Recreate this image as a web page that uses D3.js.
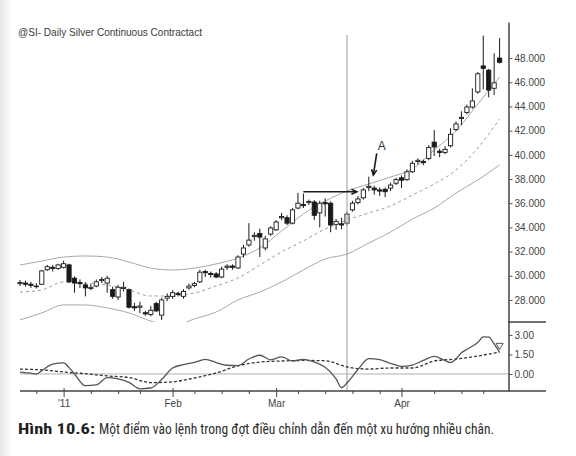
<!DOCTYPE html>
<html>
<head>
<meta charset="utf-8">
<title>Silver Continuous Contract</title>
<script src="https://d3js.org/d3.v7.min.js"></script>
<style>
    body { margin: 0; background: #fff; }
    svg text { font-family: "Liberation Sans", Arial, sans-serif; }
</style>
</head>
<body>
<script>
var width = 576,
    height = 456;

// daily bars, index 0 = Dec 21 2010 ... index 88 = Apr 28 2011
var opens = [29.35, 29.40, 29.30, 29.15, 29.30, 30.50, 30.70, 30.60, 30.70, 30.90,
    29.80, 29.45, 29.25, 28.95, 29.15, 29.60, 29.40, 28.85, 28.25, 28.95,
    28.85, 27.45, 27.40, 26.95, 26.80, 27.70, 26.75, 28.15, 28.30, 28.55,
    28.30, 29.00, 29.20, 29.50, 30.35, 30.20, 30.15, 29.90, 30.70, 30.80,
    30.65, 31.80, 32.55, 33.25, 33.50, 32.30, 33.45, 33.80, 34.80, 34.80,
    34.35, 35.60, 35.90, 36.05, 36.10, 35.20, 36.05, 36.00, 34.25, 34.30,
    34.35, 35.45, 36.05, 36.45, 37.30, 37.25, 37.10, 37.15, 37.25, 37.65,
    38.10, 37.95, 38.60, 39.45, 39.45, 39.70, 41.05, 40.30, 40.20, 40.75,
    42.10, 43.00, 43.50, 43.95, 45.20, 47.35, 47.00, 45.50, 48.00];
var highs = [29.65, 29.60, 29.50, 29.40, 30.50, 30.90, 30.90, 31.00, 31.25, 31.00,
    29.95, 29.70, 29.45, 29.30, 29.70, 29.90, 30.00, 29.10, 29.25, 29.50,
    28.95, 27.75, 27.85, 27.10, 27.50, 27.85, 28.20, 28.55, 28.80, 28.70,
    28.90, 29.35, 29.50, 30.50, 30.50, 30.35, 30.30, 30.75, 30.95, 30.95,
    31.70, 32.55, 34.35, 33.60, 33.90, 33.30, 34.10, 34.60, 35.20, 35.00,
    35.60, 36.85, 36.80, 36.30, 36.25, 36.20, 36.40, 36.15, 34.70, 34.80,
    35.30, 36.20, 36.60, 37.25, 38.20, 37.45, 37.30, 37.30, 37.70, 38.10,
    38.30, 38.80, 39.50, 39.70, 39.60, 40.80, 42.05, 40.50, 40.70, 42.20,
    42.75, 43.60, 44.15, 45.50, 46.85, 49.85, 47.10, 48.40, 49.65];
var lows = [29.15, 29.10, 29.00, 28.95, 29.25, 30.40, 30.35, 30.50, 30.60, 29.40,
    28.60, 29.00, 28.30, 28.80, 29.05, 29.40, 28.60, 28.10, 28.00, 28.70,
    27.30, 27.10, 26.90, 26.70, 26.65, 27.00, 26.35, 27.90, 28.10, 28.30,
    28.10, 28.85, 29.05, 29.40, 29.90, 29.85, 29.80, 29.80, 30.50, 30.50,
    30.55, 31.50, 32.40, 32.90, 31.55, 32.10, 33.30, 33.70, 34.60, 34.20,
    34.25, 35.50, 35.60, 35.85, 34.60, 34.00, 34.90, 33.60, 33.80, 33.85,
    34.20, 35.30, 35.90, 36.30, 37.00, 36.70, 36.60, 36.50, 37.00, 37.50,
    37.25, 37.85, 38.50, 39.20, 39.15, 39.55, 39.90, 39.80, 40.05, 40.60,
    41.95, 42.45, 43.35, 43.80, 45.05, 45.40, 44.75, 44.95, 47.55];
var closes = [29.45, 29.30, 29.20, 29.10, 30.40, 30.75, 30.60, 30.90, 31.00, 29.50,
    29.40, 29.35, 29.00, 29.05, 29.50, 29.70, 29.80, 28.30, 29.05, 29.05,
    27.40, 27.35, 27.50, 26.85, 27.15, 27.10, 28.00, 28.30, 28.60, 28.45,
    28.70, 29.15, 29.35, 30.30, 30.25, 30.10, 29.90, 30.55, 30.80, 30.70,
    31.55, 32.30, 32.95, 33.35, 33.20, 33.05, 33.95, 34.45, 34.90, 34.35,
    35.45, 36.00, 35.80, 36.15, 35.00, 36.00, 35.95, 34.20, 34.50, 34.20,
    35.10, 36.00, 36.35, 37.10, 37.40, 37.10, 37.00, 36.95, 37.50, 37.95,
    37.90, 38.60, 39.30, 39.55, 39.35, 40.60, 40.65, 40.20, 40.45, 41.70,
    42.55, 43.10, 43.95, 44.45, 46.70, 47.15, 45.35, 45.95, 47.65];

// channel (upper / middle / lower), sampled every 4 bars
var bandIdx = [0, 4, 8, 12, 16, 20, 24, 28, 32, 36, 40, 44, 48, 52, 56, 60, 64, 68, 72, 76, 80, 84, 88];
var upperBand = [30.89, 31.22, 31.55, 31.64, 31.55, 31.14, 30.64, 30.48, 30.64, 30.98, 31.47, 32.30,
    33.70, 35.11, 36.18, 37.01, 37.59, 38.17, 38.83, 40.40, 41.97, 44.20, 46.43];
var middleBand = [28.66, 28.83, 29.49, 29.40, 29.24, 28.83, 28.33, 28.33, 28.58, 29.16, 29.82, 30.89,
    31.97, 32.88, 33.87, 34.61, 35.19, 35.77, 36.68, 37.59, 38.74, 40.56, 42.96];
var lowerBand = [26.35, 26.93, 27.59, 27.59, 27.34, 26.93, 26.26, 25.85, 26.43, 27.01, 28.00, 28.66,
    29.49, 30.48, 31.39, 31.80, 32.71, 33.62, 34.69, 35.60, 36.84, 37.92, 39.16];

// lower pane oscillator and its signal line
var oscIdx = [0, 2, 3, 4, 6, 8, 9, 10, 12, 14, 16, 18, 20, 22, 24, 26, 28, 30, 32, 34, 36, 38, 40, 42, 44, 46,
    48, 50, 52, 54, 56, 58, 59, 60, 62, 64, 66, 68, 70, 72, 74, 76, 78, 79, 80, 81, 82, 84, 85, 86, 87, 88];
var oscVal = [0.15, 0.06, 0.0, 0.26, 0.76, 0.85, 0.49, 0.0, -0.9, -0.84, -0.28, -0.38, -0.65, -1.14, -1.08, -0.42,
    0.46, 0.72, 0.89, 1.12, 0.88, 0.67, 0.65, 1.15, 1.44, 1.09, 1.31, 1.0, 1.13, 0.92, 0.51, -0.38, -1.06, -0.69,
    0.34, 1.18, 1.1, 0.82, 0.59, 0.69, 1.04, 1.35, 1.03, 0.88, 1.16, 1.64, 1.9, 2.42, 2.85, 2.83, 2.31, 1.65];
var sigIdx = [0, 4, 8, 12, 16, 20, 24, 28, 32, 36, 40, 44, 48, 52, 56, 60, 64, 68, 72, 76, 80, 84, 88];
var sigVal = [0.38, 0.31, 0.15, 0.02, -0.15, -0.27, -0.67, -0.6, -0.31, 0.08, 0.62, 0.92, 1.0, 1.04, 1.02,
    0.54, 0.38, 0.46, 0.46, 1.0, 1.15, 1.38, 1.69];

var priceTicks = [28, 30, 32, 34, 36, 38, 40, 42, 44, 46, 48];
var oscTicks = [0, 1.5, 3];
var monthTicks = [8, 28, 47, 70];
var monthLabels = ["'11", "Feb", "Mar", "Apr"];
var weekTicks = [3, 13, 18, 22, 32, 37, 42, 51, 56, 61, 66, 76, 81, 85];

// annotations (bar index, price)
var entryBar = 60,
    entryLineTop = 49.9;
var arrowH = { from: [52, 36.95], to: [61.8, 36.95] };
var arrowA = { from: [65.45, 40.12], to: [64.83, 38.33], label: [66.4, 40.36] };

var svg = d3.select("body").append("svg")
    .attr("width", width)
    .attr("height", height);

var defs = svg.append("defs");
var grad = defs.append("linearGradient").attr("id", "edge");
grad.append("stop").attr("offset", "0%").attr("stop-color", "#e6e6e6");
grad.append("stop").attr("offset", "100%").attr("stop-color", "#ffffff");
defs.append("clipPath").attr("id", "pclip")
    .append("rect").attr("x", 0).attr("y", 22).attr("width", 508).attr("height", 300);

svg.append("rect").attr("width", width).attr("height", height).attr("fill", "#fff");
svg.append("rect").attr("width", 12).attr("height", height).attr("fill", "url(#edge)");

var x = d3.scaleLinear().domain([0, 88]).range([20, 499.6]);
var y = d3.scaleLinear().domain([26.18, 50.98]).range([322, 22]);
var yo = d3.scaleLinear().domain([-1.31, 4.0]).range([391, 322]);

svg.append("text")
    .attr("x", 18).attr("y", 35.5)
    .attr("font-size", 10.5)
    .attr("fill", "#3a3a3a")
    .attr("textLength", 184)
    .attr("lengthAdjust", "spacingAndGlyphs")
    .text("@SI- Daily  Silver Continuous Contractact");

/* PRICE PANE */

var price = svg.append("g").attr("clip-path", "url(#pclip)");

function band(idx, vals, yScale) {
    return d3.line()
        .x(function (d, i) { return x(idx[i]); })
        .y(function (d) { return yScale(d); })
        .curve(d3.curveMonotoneX)(vals);
}

price.append("path").attr("d", band(bandIdx, upperBand, y))
    .attr("fill", "none").attr("stroke", "#a8a8a8").attr("stroke-width", 1);
price.append("path").attr("d", band(bandIdx, lowerBand, y))
    .attr("fill", "none").attr("stroke", "#a8a8a8").attr("stroke-width", 1);
price.append("path").attr("d", band(bandIdx, middleBand, y))
    .attr("fill", "none").attr("stroke", "#9a9a9a").attr("stroke-width", 1)
    .attr("stroke-dasharray", "3,3");

var bars = d3.range(opens.length).map(function (i) {
    return { i: i, o: opens[i], h: highs[i], l: lows[i], c: closes[i] };
});

var bw = 4.2;

price.selectAll(".wick")
    .data(bars)
    .enter().append("line")
    .attr("class", "wick")
    .attr("x1", function (d) { return x(d.i); })
    .attr("x2", function (d) { return x(d.i); })
    .attr("y1", function (d) { return y(d.h); })
    .attr("y2", function (d) { return y(d.l); })
    .attr("stroke", "#1a1a1a")
    .attr("stroke-width", 1);

price.selectAll(".body")
    .data(bars)
    .enter().append("rect")
    .attr("class", "body")
    .attr("x", function (d) { return x(d.i) - bw / 2; })
    .attr("width", bw)
    .attr("y", function (d) { return y(Math.max(d.o, d.c)); })
    .attr("height", function (d) { return Math.max(0.6, Math.abs(y(d.o) - y(d.c))); })
    .attr("fill", function (d) { return d.c >= d.o ? "#fff" : "#1a1a1a"; })
    .attr("stroke", "#1a1a1a")
    .attr("stroke-width", 0.9);

// entry marker line through both panes
svg.append("line")
    .attr("x1", x(entryBar)).attr("x2", x(entryBar))
    .attr("y1", y(entryLineTop)).attr("y2", 391)
    .attr("stroke", "#9a9a9a").attr("stroke-width", 1);

function arrow(a, head) {
    var x1 = x(a.from[0]), y1 = y(a.from[1]), x2 = x(a.to[0]), y2 = y(a.to[1]);
    var ang = Math.atan2(y2 - y1, x2 - x1);
    var g = svg.append("g").attr("stroke", "#1a1a1a").attr("stroke-width", 1.6).attr("fill", "none");
    g.append("line").attr("x1", x1).attr("y1", y1).attr("x2", x2).attr("y2", y2);
    var p1 = [x2 - head * Math.cos(ang - 0.45), y2 - head * Math.sin(ang - 0.45)];
    var p2 = [x2 - head * Math.cos(ang + 0.45), y2 - head * Math.sin(ang + 0.45)];
    g.append("path").attr("d", "M" + p1 + "L" + [x2, y2] + "L" + p2)
        .attr("stroke-linejoin", "miter");
}
arrow(arrowH, 6);
arrow(arrowA, 6);

svg.append("text")
    .attr("x", x(arrowA.label[0])).attr("y", y(arrowA.label[1]))
    .attr("text-anchor", "middle")
    .attr("font-size", 12)
    .attr("fill", "#333")
    .text("A");

var pAxis = d3.axisRight(y)
    .tickValues(priceTicks)
    .tickFormat(d3.format(".3f"))
    .tickSize(4)
    .tickSizeOuter(0)
    .tickPadding(2);

svg.append("g")
    .attr("transform", "translate(508.5,0)")
    .call(pAxis)
    .call(function (g) {
        g.select(".domain").attr("stroke", "#444").attr("stroke-width", 1.5);
        g.selectAll(".tick line").attr("stroke", "#555");
        g.selectAll("text").attr("font-size", 10).attr("fill", "#444")
            .attr("font-family", "Liberation Sans, Arial, sans-serif");
    });

/* OSCILLATOR PANE */

svg.append("line")
    .attr("x1", 508).attr("x2", 546).attr("y1", 322).attr("y2", 322)
    .attr("stroke", "#444").attr("stroke-width", 1.5);

svg.append("line")
    .attr("x1", 20).attr("x2", 508).attr("y1", yo(0)).attr("y2", yo(0))
    .attr("stroke", "#b0b0b0").attr("stroke-width", 1);

svg.append("path").attr("d", band(sigIdx, sigVal, yo))
    .attr("fill", "none").attr("stroke", "#333").attr("stroke-width", 1.3)
    .attr("stroke-dasharray", "3,2");
svg.append("path").attr("d", band(oscIdx, oscVal, yo))
    .attr("fill", "none").attr("stroke", "#555").attr("stroke-width", 1.3);

svg.append("path")
    .attr("d", d3.symbol().type(d3.symbolTriangle).size(22))
    .attr("transform", "translate(" + x(88) + "," + yo(2.2) + ") rotate(180)")
    .attr("fill", "#fff").attr("stroke", "#555").attr("stroke-width", 1);

var oAxis = d3.axisRight(yo)
    .tickValues(oscTicks)
    .tickFormat(d3.format(".2f"))
    .tickSize(4)
    .tickSizeOuter(0)
    .tickPadding(2);

svg.append("g")
    .attr("transform", "translate(508.5,0)")
    .call(oAxis)
    .call(function (g) {
        g.select(".domain").attr("stroke", "#444").attr("stroke-width", 1.5);
        g.selectAll(".tick line").attr("stroke", "#555");
        g.selectAll("text").attr("font-size", 10).attr("fill", "#444")
            .attr("font-family", "Liberation Sans, Arial, sans-serif");
    });

/* TIME AXIS */

svg.append("line")
    .attr("x1", 20).attr("x2", 546).attr("y1", 391).attr("y2", 391)
    .attr("stroke", "#444").attr("stroke-width", 1.5);

svg.append("g")
    .attr("transform", "translate(0,391)")
    .call(d3.axisBottom(x).tickValues(weekTicks).tickSize(3).tickFormat(""))
    .call(function (g) {
        g.select(".domain").remove();
        g.selectAll(".tick line").attr("stroke", "#444");
    });

svg.append("g")
    .attr("transform", "translate(0,391)")
    .call(d3.axisBottom(x).tickValues(monthTicks).tickSize(6).tickPadding(3)
        .tickFormat(function (d, i) { return monthLabels[i]; }))
    .call(function (g) {
        g.select(".domain").remove();
        g.selectAll(".tick line").attr("stroke", "#444").attr("y1", -3);
        g.selectAll("text").attr("font-size", 10).attr("fill", "#444")
            .attr("font-family", "Liberation Sans, Arial, sans-serif");
    });

/* CAPTION */

svg.append("text")
    .attr("x", 18).attr("y", 434)
    .attr("font-size", 15)
    .attr("font-weight", "bold")
    .attr("fill", "#1e1e1e")
    .attr("textLength", 77)
    .attr("lengthAdjust", "spacingAndGlyphs")
    .style("font-family", "'Liberation Sans Narrow', 'Roboto Condensed', Roboto, sans-serif")
    .text("Hình 10.6:");

svg.append("text")
    .attr("x", 99).attr("y", 434)
    .attr("font-size", 15)
    .attr("fill", "#2e2e2e")
    .attr("textLength", 395)
    .attr("lengthAdjust", "spacingAndGlyphs")
    .style("font-family", "'Liberation Sans Narrow', 'Roboto Condensed', Roboto, sans-serif")
    .text("Một điểm vào lệnh trong đợt điều chỉnh dẫn đến một xu hướng nhiều chân.");
</script>
</body>
</html>
